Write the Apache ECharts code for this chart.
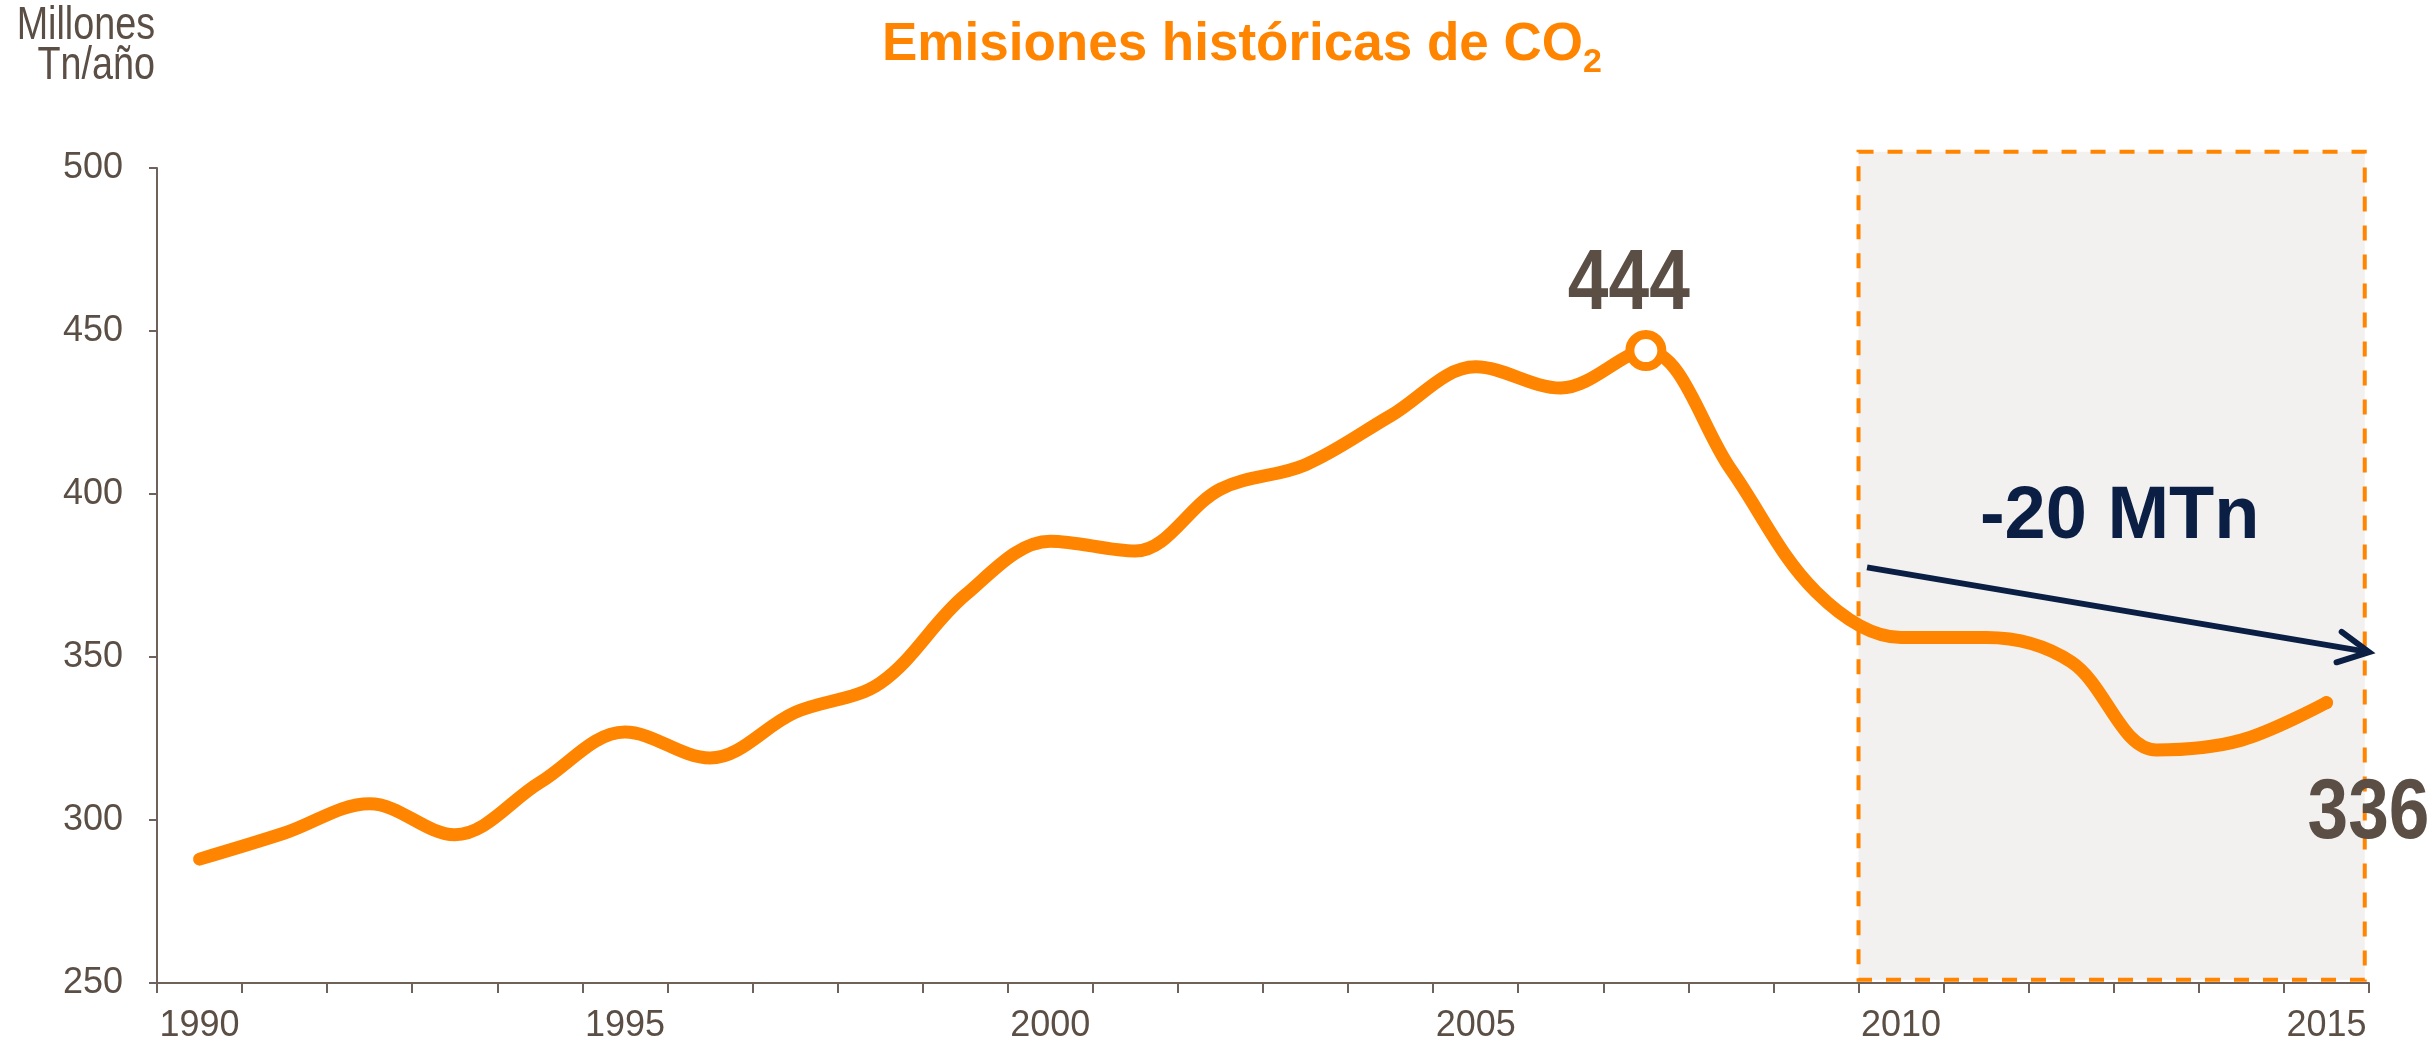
<!DOCTYPE html>
<html>
<head>
<meta charset="utf-8">
<script src="https://cdn.jsdelivr.net/npm/echarts@6/dist/echarts.min.js"></script>
<style>
  html, body { margin: 0; padding: 0; background: #fff; }
  #chart { width: 2435px; height: 1051px; }
</style>
</head>
<body>
<div id="chart"></div>
<script>
"use strict";

// ---------- datos ----------
const years = ["1990", "1991", "1992", "1993", "1994", "1995", "1996", "1997", "1998", "1999", "2000", "2001", "2002",
  "2003", "2004", "2005", "2006", "2007", "2008", "2009", "2010", "2011", "2012", "2013", "2014", "2015"];
const emissions = [288, 296, 305, 295.5, 311.5, 327, 319, 333, 342, 369, 385.5, 382.5, 401.5,
  409, 424, 439, 432.5, 444, 407.5, 370, 356, 356, 348.5, 321.5, 324.5, 336];
const yMin = 250, yMax = 500, yStep = 50;
const peakYear = "2007", lastYear = "2015";

// anotaciones (en años / MTn)
const boxYears = [2009.5, 2015.45];
const boxValues = [251, 505];
const arrowFrom = [2009.6, 377.5];
const arrowTo = [2015.5, 351.5];
const arrowText = "-20 MTn";
const arrowTextAt = [2012.57, 392.8];

const ORANGE = "#FF8400";
const BROWN = "#5B4E45";
const NAVY = "#0B1F44";
const FONT = "'Liberation Sans', Arial, sans-serif";
const NARROW = 0.82; // el original usa una fuente estrecha

const chart = echarts.init(document.getElementById("chart"));

const lineData = emissions.map((v, i) => {
  if (years[i] === peakYear) {
    return {
      value: v, symbol: "circle", symbolSize: 32,
      itemStyle: { color: "#fff", borderColor: ORANGE, borderWidth: 9 },
    };
  }
  if (years[i] === lastYear) {
    return { value: v, symbol: "circle", symbolSize: 13, itemStyle: { color: ORANGE } };
  }
  return v;
});

function valueLabel(api, year, dx, dy) {
  const v = emissions[years.indexOf(year)];
  const p = api.coord([Number(year), v]);
  return {
    type: "text", x: p[0] + dx, y: p[1] + dy, scaleX: 0.85,
    style: { text: String(v), fontSize: 86, fontWeight: "bold", fill: BROWN, fontFamily: FONT,
      align: "center", verticalAlign: "middle" },
  };
}

function renderNotes(params, api) {
  const a = api.coord([boxYears[0], boxValues[1]]);
  const b = api.coord([boxYears[1], boxValues[0]]);
  const p0 = api.coord(arrowFrom);
  const p1 = api.coord(arrowTo);
  const ang = Math.atan2(p0[1] - p1[1], p0[0] - p1[0]);
  const L = 34, da = 27 * Math.PI / 180;
  const h1 = [p1[0] + L * Math.cos(ang + da), p1[1] + L * Math.sin(ang + da)];
  const h2 = [p1[0] + L * Math.cos(ang - da), p1[1] + L * Math.sin(ang - da)];
  const t = api.coord(arrowTextAt);
  return {
    type: "group",
    children: [
      { type: "rect", shape: { x: a[0], y: a[1], width: b[0] - a[0], height: b[1] - a[1] },
        style: { fill: "#F2F1EF", stroke: ORANGE, lineWidth: 4, lineDash: [15, 14] } },
      { type: "line", shape: { x1: p0[0], y1: p0[1], x2: p1[0], y2: p1[1] },
        style: { stroke: NAVY, lineWidth: 6 } },
      { type: "polyline", shape: { points: [h1, p1, h2] },
        style: { stroke: NAVY, lineWidth: 6, lineCap: "round", fill: null } },
      { type: "text", x: t[0], y: t[1],
        style: { text: arrowText, fontSize: 74, fontWeight: "bold", fill: NAVY, fontFamily: FONT,
          align: "center", verticalAlign: "middle" } },
      valueLabel(api, peakYear, -17, -65),
      valueLabel(api, lastYear, 42, 112),
    ],
  };
}

chart.setOption({
  animation: false,
  title: {
    text: "{t|Emisiones históricas de CO}{s|2}",
    left: 882, top: 10, padding: 0,
    textStyle: {
      rich: {
        t: { fontSize: 53, fontWeight: "bold", color: ORANGE, lineHeight: 70, fontFamily: FONT },
        s: { fontSize: 34, fontWeight: "bold", color: ORANGE, lineHeight: 28, verticalAlign: "bottom", fontFamily: FONT },
      },
    },
  },
  graphic: [
    { type: "text", x: 155, y: 6, scaleX: NARROW,
      style: { text: "Millones\nTn/año", fontSize: 46, lineHeight: 40, fill: BROWN, fontFamily: FONT,
        align: "right", verticalAlign: "top" } },
  ],
  grid: { left: 157, right: 66, top: 168, bottom: 68 },
  xAxis: [
    {
      type: "category", data: years, boundaryGap: true,
      axisLine: { lineStyle: { color: "#6F625A", width: 2 } },
      axisTick: { show: true, interval: 0, length: 10, lineStyle: { color: "#6F625A", width: 2 } },
      axisLabel: { interval: (i) => i % 5 === 0, color: BROWN, fontSize: 36, fontFamily: FONT, margin: 25 },
      splitLine: { show: false },
    },
    { type: "value", min: 1989.5, max: 2015.5, show: false },
  ],
  yAxis: {
    type: "value", min: yMin, max: yMax, interval: yStep,
    axisLine: { show: true, lineStyle: { color: "#6F625A", width: 2 } },
    axisTick: { show: true, length: 8, lineStyle: { color: "#6F625A", width: 2 } },
    axisLabel: { color: BROWN, fontSize: 36, fontFamily: FONT, margin: 34 },
    splitLine: { show: false },
  },
  series: [
    {
      name: "notas", type: "custom", xAxisIndex: 1, yAxisIndex: 0, z: 1, silent: true,
      data: [[boxYears[0], boxValues[0]]], renderItem: renderNotes,
    },
    {
      name: "Emisiones", type: "line", xAxisIndex: 0, yAxisIndex: 0, z: 3,
      data: lineData, smooth: 0.35, symbol: "none",
      lineStyle: { color: ORANGE, width: 13, cap: "round", join: "round" },
      itemStyle: { color: ORANGE },
    },
  ],
});
</script>
</body>
</html>
